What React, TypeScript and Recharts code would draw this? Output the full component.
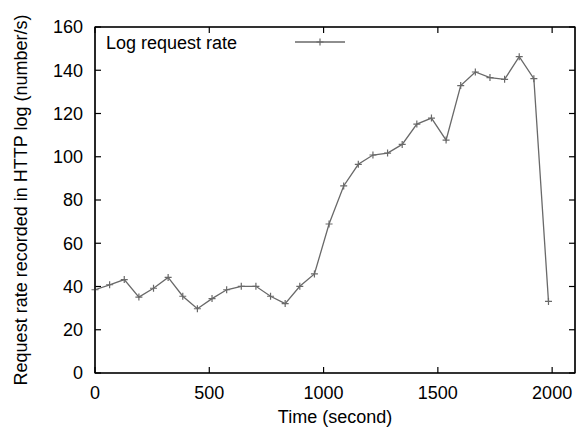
import { LineChart, Line, XAxis, YAxis, Label } from "recharts";

const times = [
  0, 64, 128, 192, 256, 320, 384, 448, 512, 576, 640, 704, 768, 832, 896, 960,
  1024, 1088, 1152, 1216, 1280, 1344, 1408, 1472, 1536, 1600, 1664, 1728, 1792, 1856, 1920, 1984,
];
const rates = [
  38.5, 40.8, 43.2, 35.1, 39.2, 44.2, 35.5, 29.7, 34.4, 38.5, 40.1, 40.1, 35.5, 32.1, 40.1, 45.8,
  68.9, 86.5, 96.5, 100.8, 101.7, 105.7, 115.1, 117.9, 107.7, 132.9, 139.2, 136.6, 135.8, 146.3, 136.1, 33.1,
];
const xTicks = [0, 500, 1000, 1500, 2000];
const yTicks = [0, 20, 40, 60, 80, 100, 120, 140, 160];

const data = times.map((t, i) => ({ t, rate: rates[i] }));

const W = 576;
const H = 428;
const TOP = 27;
const LEFT = 95;
const RIGHT = 575;
const BOTTOM = 373;

const FONT = "'Liberation Sans', Arial, Helvetica, sans-serif";
const tickFont = { fill: "black", fontSize: 18, fontFamily: FONT };
const blank = () => "";

const Plus = ({ cx, cy }: any) => {
  if (cx == null || cy == null) return null;
  return (
    <path
      d={`M${cx - 3.5},${cy}H${cx + 3.5}M${cx},${cy - 3.5}V${cy + 3.5}`}
      stroke="dimgray"
      strokeWidth={1.2}
      fill="none"
    />
  );
};

export default function App() {
  return (
    <div style={{ position: "absolute", left: 0, top: 0, width: W, height: H, background: "white" }}>
      <LineChart
        width={W} height={H} data={data}
        margin={{ top: TOP, right: W - RIGHT, bottom: 0, left: 0 }}
      >
        {/* bottom / left: labels outside, ticks pointing in */}
        <XAxis
          dataKey="t" type="number" domain={[0, 2100]} ticks={xTicks}
          height={H - BOTTOM} tickSize={-6} tickMargin={19} tick={tickFont}
          stroke="black" strokeWidth={1.2}
        >
          <Label
            value="Time (second)" position="insideBottom" offset={5}
            style={{ fontSize: 18, fontFamily: FONT, fill: "black" }}
          />
        </XAxis>
        <YAxis
          type="number" domain={[0, 160]} ticks={yTicks} width={LEFT}
          tickSize={-6} tickMargin={18} tick={tickFont}
          stroke="black" strokeWidth={1.2}
        >
          <Label
            content={({ viewBox }: any) => {
              const cy = viewBox.y + viewBox.height / 2;
              return (
                <text
                  x={27} y={cy} transform={`rotate(-90, 27, ${cy})`}
                  textAnchor="middle" fontSize={18} fontFamily={FONT} fill="black"
                >
                  Request rate recorded in HTTP log (number/s)
                </text>
              );
            }}
          />
        </YAxis>
        {/* mirrored top / right edges with inward ticks, no labels */}
        <XAxis
          xAxisId="top" dataKey="t" orientation="top" mirror type="number"
          domain={[0, 2100]} ticks={xTicks} tickSize={6} tickFormatter={blank}
          stroke="black" strokeWidth={1.2}
        />
        <YAxis
          yAxisId="right" orientation="right" mirror type="number"
          domain={[0, 160]} ticks={yTicks} tickSize={6} tickFormatter={blank}
          stroke="black" strokeWidth={1.2}
        />
        <Line
          xAxisId="top" yAxisId="right" type="linear" dataKey="rate"
          stroke="dimgray" strokeOpacity={0} dot={false} activeDot={false}
          isAnimationActive={false}
        />
        <Line
          type="linear" dataKey="rate" stroke="dimgray" strokeWidth={1.3}
          dot={<Plus />} activeDot={false} isAnimationActive={false}
        />
      </LineChart>
      <svg width={W} height={H} style={{ position: "absolute", left: 0, top: 0, pointerEvents: "none" }}>
        <rect
          x={LEFT} y={TOP} width={RIGHT - LEFT} height={BOTTOM - TOP}
          fill="none" stroke="black" strokeWidth={1.2}
        />
        <text x={106} y={48.5} fontSize={18} fontFamily={FONT} fill="black">Log request rate</text>
        <line x1={295} x2={345} y1={42} y2={42} stroke="dimgray" strokeWidth={1.3} />
        <Plus cx={320} cy={42} />
      </svg>
    </div>
  );
}
